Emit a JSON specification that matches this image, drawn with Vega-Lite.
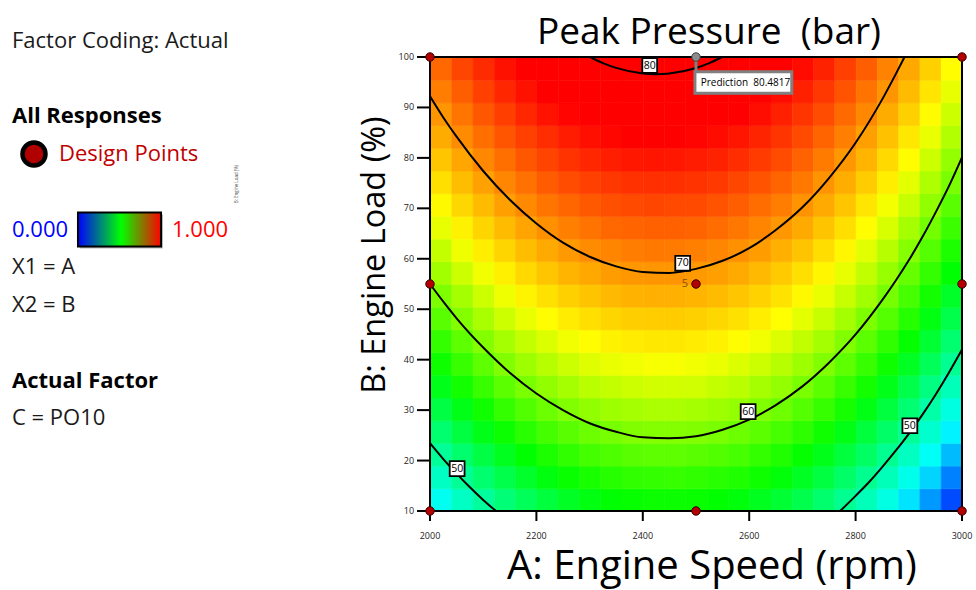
{
  "$schema": "https://vega.github.io/schema/vega-lite/v6.json",
  "width": 532,
  "height": 454,
  "autosize": {"type": "none"},
  "padding": {"left": 430, "top": 57, "right": 14, "bottom": 79},
  "config": {"font": "Open Sans", "view": {"stroke": null}},
  "datasets": {
    "surface": [
      {"A":2020,"B":12.25,"P":47.0},{"A":2060,"B":12.25,"P":48.6},{"A":2100,"B":12.25,"P":50.0},{"A":2140,"B":12.25,"P":51.3},{"A":2180,"B":12.25,"P":52.4},{"A":2220,"B":12.25,"P":53.4},{"A":2260,"B":12.25,"P":54.2},{"A":2300,"B":12.25,"P":54.9},{"A":2340,"B":12.25,"P":55.4},{"A":2380,"B":12.25,"P":55.7},{"A":2420,"B":12.25,"P":55.9},{"A":2460,"B":12.25,"P":55.9},{"A":2500,"B":12.25,"P":55.8},{"A":2540,"B":12.25,"P":55.5},{"A":2580,"B":12.25,"P":55.1},{"A":2620,"B":12.25,"P":54.4},{"A":2660,"B":12.25,"P":53.7},{"A":2700,"B":12.25,"P":52.8},{"A":2740,"B":12.25,"P":51.7},{"A":2780,"B":12.25,"P":50.4},{"A":2820,"B":12.25,"P":49.0},{"A":2860,"B":12.25,"P":47.5},{"A":2900,"B":12.25,"P":45.8},{"A":2940,"B":12.25,"P":43.9},{"A":2980,"B":12.25,"P":41.9},
      {"A":2020,"B":16.75,"P":48.6},{"A":2060,"B":16.75,"P":50.2},{"A":2100,"B":16.75,"P":51.6},{"A":2140,"B":16.75,"P":52.9},{"A":2180,"B":16.75,"P":54.0},{"A":2220,"B":16.75,"P":55.0},{"A":2260,"B":16.75,"P":55.8},{"A":2300,"B":16.75,"P":56.4},{"A":2340,"B":16.75,"P":56.9},{"A":2380,"B":16.75,"P":57.3},{"A":2420,"B":16.75,"P":57.4},{"A":2460,"B":16.75,"P":57.5},{"A":2500,"B":16.75,"P":57.3},{"A":2540,"B":16.75,"P":57.0},{"A":2580,"B":16.75,"P":56.6},{"A":2620,"B":16.75,"P":56.0},{"A":2660,"B":16.75,"P":55.2},{"A":2700,"B":16.75,"P":54.3},{"A":2740,"B":16.75,"P":53.2},{"A":2780,"B":16.75,"P":51.9},{"A":2820,"B":16.75,"P":50.5},{"A":2860,"B":16.75,"P":49.0},{"A":2900,"B":16.75,"P":47.2},{"A":2940,"B":16.75,"P":45.4},{"A":2980,"B":16.75,"P":43.3},
      {"A":2020,"B":21.25,"P":50.1},{"A":2060,"B":21.25,"P":51.7},{"A":2100,"B":21.25,"P":53.1},{"A":2140,"B":21.25,"P":54.4},{"A":2180,"B":21.25,"P":55.5},{"A":2220,"B":21.25,"P":56.5},{"A":2260,"B":21.25,"P":57.3},{"A":2300,"B":21.25,"P":58.0},{"A":2340,"B":21.25,"P":58.4},{"A":2380,"B":21.25,"P":58.8},{"A":2420,"B":21.25,"P":59.0},{"A":2460,"B":21.25,"P":59.0},{"A":2500,"B":21.25,"P":58.8},{"A":2540,"B":21.25,"P":58.5},{"A":2580,"B":21.25,"P":58.1},{"A":2620,"B":21.25,"P":57.4},{"A":2660,"B":21.25,"P":56.7},{"A":2700,"B":21.25,"P":55.7},{"A":2740,"B":21.25,"P":54.6},{"A":2780,"B":21.25,"P":53.4},{"A":2820,"B":21.25,"P":52.0},{"A":2860,"B":21.25,"P":50.4},{"A":2900,"B":21.25,"P":48.7},{"A":2940,"B":21.25,"P":46.8},{"A":2980,"B":21.25,"P":44.8},
      {"A":2020,"B":25.75,"P":51.6},{"A":2060,"B":25.75,"P":53.2},{"A":2100,"B":25.75,"P":54.7},{"A":2140,"B":25.75,"P":55.9},{"A":2180,"B":25.75,"P":57.0},{"A":2220,"B":25.75,"P":58.0},{"A":2260,"B":25.75,"P":58.8},{"A":2300,"B":25.75,"P":59.5},{"A":2340,"B":25.75,"P":59.9},{"A":2380,"B":25.75,"P":60.3},{"A":2420,"B":25.75,"P":60.4},{"A":2460,"B":25.75,"P":60.4},{"A":2500,"B":25.75,"P":60.3},{"A":2540,"B":25.75,"P":60.0},{"A":2580,"B":25.75,"P":59.5},{"A":2620,"B":25.75,"P":58.9},{"A":2660,"B":25.75,"P":58.1},{"A":2700,"B":25.75,"P":57.2},{"A":2740,"B":25.75,"P":56.1},{"A":2780,"B":25.75,"P":54.8},{"A":2820,"B":25.75,"P":53.4},{"A":2860,"B":25.75,"P":51.9},{"A":2900,"B":25.75,"P":50.1},{"A":2940,"B":25.75,"P":48.2},{"A":2980,"B":25.75,"P":46.2},
      {"A":2020,"B":30.25,"P":53.1},{"A":2060,"B":30.25,"P":54.7},{"A":2100,"B":30.25,"P":56.1},{"A":2140,"B":30.25,"P":57.4},{"A":2180,"B":30.25,"P":58.5},{"A":2220,"B":30.25,"P":59.5},{"A":2260,"B":30.25,"P":60.3},{"A":2300,"B":30.25,"P":60.9},{"A":2340,"B":30.25,"P":61.4},{"A":2380,"B":30.25,"P":61.7},{"A":2420,"B":30.25,"P":61.9},{"A":2460,"B":30.25,"P":61.9},{"A":2500,"B":30.25,"P":61.7},{"A":2540,"B":30.25,"P":61.4},{"A":2580,"B":30.25,"P":61.0},{"A":2620,"B":30.25,"P":60.3},{"A":2660,"B":30.25,"P":59.6},{"A":2700,"B":30.25,"P":58.6},{"A":2740,"B":30.25,"P":57.5},{"A":2780,"B":30.25,"P":56.3},{"A":2820,"B":30.25,"P":54.8},{"A":2860,"B":30.25,"P":53.3},{"A":2900,"B":30.25,"P":51.5},{"A":2940,"B":30.25,"P":49.6},{"A":2980,"B":30.25,"P":47.6},
      {"A":2020,"B":34.75,"P":54.6},{"A":2060,"B":34.75,"P":56.2},{"A":2100,"B":34.75,"P":57.6},{"A":2140,"B":34.75,"P":58.9},{"A":2180,"B":34.75,"P":60.0},{"A":2220,"B":34.75,"P":60.9},{"A":2260,"B":34.75,"P":61.7},{"A":2300,"B":34.75,"P":62.4},{"A":2340,"B":34.75,"P":62.8},{"A":2380,"B":34.75,"P":63.1},{"A":2420,"B":34.75,"P":63.3},{"A":2460,"B":34.75,"P":63.3},{"A":2500,"B":34.75,"P":63.2},{"A":2540,"B":34.75,"P":62.8},{"A":2580,"B":34.75,"P":62.4},{"A":2620,"B":34.75,"P":61.7},{"A":2660,"B":34.75,"P":61.0},{"A":2700,"B":34.75,"P":60.0},{"A":2740,"B":34.75,"P":58.9},{"A":2780,"B":34.75,"P":57.6},{"A":2820,"B":34.75,"P":56.2},{"A":2860,"B":34.75,"P":54.6},{"A":2900,"B":34.75,"P":52.9},{"A":2940,"B":34.75,"P":51.0},{"A":2980,"B":34.75,"P":49.0},
      {"A":2020,"B":39.25,"P":56.0},{"A":2060,"B":39.25,"P":57.6},{"A":2100,"B":39.25,"P":59.0},{"A":2140,"B":39.25,"P":60.3},{"A":2180,"B":39.25,"P":61.4},{"A":2220,"B":39.25,"P":62.3},{"A":2260,"B":39.25,"P":63.1},{"A":2300,"B":39.25,"P":63.8},{"A":2340,"B":39.25,"P":64.2},{"A":2380,"B":39.25,"P":64.5},{"A":2420,"B":39.25,"P":64.7},{"A":2460,"B":39.25,"P":64.7},{"A":2500,"B":39.25,"P":64.5},{"A":2540,"B":39.25,"P":64.2},{"A":2580,"B":39.25,"P":63.7},{"A":2620,"B":39.25,"P":63.1},{"A":2660,"B":39.25,"P":62.3},{"A":2700,"B":39.25,"P":61.4},{"A":2740,"B":39.25,"P":60.3},{"A":2780,"B":39.25,"P":59.0},{"A":2820,"B":39.25,"P":57.6},{"A":2860,"B":39.25,"P":56.0},{"A":2900,"B":39.25,"P":54.3},{"A":2940,"B":39.25,"P":52.4},{"A":2980,"B":39.25,"P":50.3},
      {"A":2020,"B":43.75,"P":57.4},{"A":2060,"B":43.75,"P":59.0},{"A":2100,"B":43.75,"P":60.4},{"A":2140,"B":43.75,"P":61.7},{"A":2180,"B":43.75,"P":62.8},{"A":2220,"B":43.75,"P":63.7},{"A":2260,"B":43.75,"P":64.5},{"A":2300,"B":43.75,"P":65.1},{"A":2340,"B":43.75,"P":65.6},{"A":2380,"B":43.75,"P":65.9},{"A":2420,"B":43.75,"P":66.1},{"A":2460,"B":43.75,"P":66.1},{"A":2500,"B":43.75,"P":65.9},{"A":2540,"B":43.75,"P":65.6},{"A":2580,"B":43.75,"P":65.1},{"A":2620,"B":43.75,"P":64.5},{"A":2660,"B":43.75,"P":63.7},{"A":2700,"B":43.75,"P":62.7},{"A":2740,"B":43.75,"P":61.6},{"A":2780,"B":43.75,"P":60.3},{"A":2820,"B":43.75,"P":58.9},{"A":2860,"B":43.75,"P":57.3},{"A":2900,"B":43.75,"P":55.6},{"A":2940,"B":43.75,"P":53.7},{"A":2980,"B":43.75,"P":51.6},
      {"A":2020,"B":48.25,"P":58.8},{"A":2060,"B":48.25,"P":60.4},{"A":2100,"B":48.25,"P":61.8},{"A":2140,"B":48.25,"P":63.1},{"A":2180,"B":48.25,"P":64.2},{"A":2220,"B":48.25,"P":65.1},{"A":2260,"B":48.25,"P":65.9},{"A":2300,"B":48.25,"P":66.5},{"A":2340,"B":48.25,"P":67.0},{"A":2380,"B":48.25,"P":67.3},{"A":2420,"B":48.25,"P":67.4},{"A":2460,"B":48.25,"P":67.4},{"A":2500,"B":48.25,"P":67.2},{"A":2540,"B":48.25,"P":66.9},{"A":2580,"B":48.25,"P":66.4},{"A":2620,"B":48.25,"P":65.8},{"A":2660,"B":48.25,"P":65.0},{"A":2700,"B":48.25,"P":64.0},{"A":2740,"B":48.25,"P":62.9},{"A":2780,"B":48.25,"P":61.6},{"A":2820,"B":48.25,"P":60.2},{"A":2860,"B":48.25,"P":58.6},{"A":2900,"B":48.25,"P":56.9},{"A":2940,"B":48.25,"P":54.9},{"A":2980,"B":48.25,"P":52.9},
      {"A":2020,"B":52.75,"P":60.2},{"A":2060,"B":52.75,"P":61.7},{"A":2100,"B":52.75,"P":63.1},{"A":2140,"B":52.75,"P":64.4},{"A":2180,"B":52.75,"P":65.5},{"A":2220,"B":52.75,"P":66.4},{"A":2260,"B":52.75,"P":67.2},{"A":2300,"B":52.75,"P":67.8},{"A":2340,"B":52.75,"P":68.3},{"A":2380,"B":52.75,"P":68.6},{"A":2420,"B":52.75,"P":68.7},{"A":2460,"B":52.75,"P":68.7},{"A":2500,"B":52.75,"P":68.5},{"A":2540,"B":52.75,"P":68.2},{"A":2580,"B":52.75,"P":67.7},{"A":2620,"B":52.75,"P":67.1},{"A":2660,"B":52.75,"P":66.3},{"A":2700,"B":52.75,"P":65.3},{"A":2740,"B":52.75,"P":64.2},{"A":2780,"B":52.75,"P":62.9},{"A":2820,"B":52.75,"P":61.5},{"A":2860,"B":52.75,"P":59.9},{"A":2900,"B":52.75,"P":58.1},{"A":2940,"B":52.75,"P":56.2},{"A":2980,"B":52.75,"P":54.1},
      {"A":2020,"B":57.25,"P":61.5},{"A":2060,"B":57.25,"P":63.1},{"A":2100,"B":57.25,"P":64.5},{"A":2140,"B":57.25,"P":65.7},{"A":2180,"B":57.25,"P":66.8},{"A":2220,"B":57.25,"P":67.7},{"A":2260,"B":57.25,"P":68.5},{"A":2300,"B":57.25,"P":69.1},{"A":2340,"B":57.25,"P":69.6},{"A":2380,"B":57.25,"P":69.9},{"A":2420,"B":57.25,"P":70.0},{"A":2460,"B":57.25,"P":70.0},{"A":2500,"B":57.25,"P":69.8},{"A":2540,"B":57.25,"P":69.5},{"A":2580,"B":57.25,"P":69.0},{"A":2620,"B":57.25,"P":68.3},{"A":2660,"B":57.25,"P":67.5},{"A":2700,"B":57.25,"P":66.5},{"A":2740,"B":57.25,"P":65.4},{"A":2780,"B":57.25,"P":64.1},{"A":2820,"B":57.25,"P":62.7},{"A":2860,"B":57.25,"P":61.1},{"A":2900,"B":57.25,"P":59.3},{"A":2940,"B":57.25,"P":57.4},{"A":2980,"B":57.25,"P":55.4},
      {"A":2020,"B":61.75,"P":62.8},{"A":2060,"B":61.75,"P":64.4},{"A":2100,"B":61.75,"P":65.8},{"A":2140,"B":61.75,"P":67.0},{"A":2180,"B":61.75,"P":68.1},{"A":2220,"B":61.75,"P":69.0},{"A":2260,"B":61.75,"P":69.8},{"A":2300,"B":61.75,"P":70.4},{"A":2340,"B":61.75,"P":70.8},{"A":2380,"B":61.75,"P":71.1},{"A":2420,"B":61.75,"P":71.3},{"A":2460,"B":61.75,"P":71.2},{"A":2500,"B":61.75,"P":71.0},{"A":2540,"B":61.75,"P":70.7},{"A":2580,"B":61.75,"P":70.2},{"A":2620,"B":61.75,"P":69.6},{"A":2660,"B":61.75,"P":68.7},{"A":2700,"B":61.75,"P":67.8},{"A":2740,"B":61.75,"P":66.6},{"A":2780,"B":61.75,"P":65.4},{"A":2820,"B":61.75,"P":63.9},{"A":2860,"B":61.75,"P":62.3},{"A":2900,"B":61.75,"P":60.5},{"A":2940,"B":61.75,"P":58.6},{"A":2980,"B":61.75,"P":56.5},
      {"A":2020,"B":66.25,"P":64.1},{"A":2060,"B":66.25,"P":65.6},{"A":2100,"B":66.25,"P":67.0},{"A":2140,"B":66.25,"P":68.2},{"A":2180,"B":66.25,"P":69.3},{"A":2220,"B":66.25,"P":70.2},{"A":2260,"B":66.25,"P":71.0},{"A":2300,"B":66.25,"P":71.6},{"A":2340,"B":66.25,"P":72.1},{"A":2380,"B":66.25,"P":72.3},{"A":2420,"B":66.25,"P":72.5},{"A":2460,"B":66.25,"P":72.5},{"A":2500,"B":66.25,"P":72.3},{"A":2540,"B":66.25,"P":71.9},{"A":2580,"B":66.25,"P":71.4},{"A":2620,"B":66.25,"P":70.8},{"A":2660,"B":66.25,"P":69.9},{"A":2700,"B":66.25,"P":69.0},{"A":2740,"B":66.25,"P":67.8},{"A":2780,"B":66.25,"P":66.5},{"A":2820,"B":66.25,"P":65.1},{"A":2860,"B":66.25,"P":63.5},{"A":2900,"B":66.25,"P":61.7},{"A":2940,"B":66.25,"P":59.8},{"A":2980,"B":66.25,"P":57.7},
      {"A":2020,"B":70.75,"P":65.3},{"A":2060,"B":70.75,"P":66.9},{"A":2100,"B":70.75,"P":68.2},{"A":2140,"B":70.75,"P":69.5},{"A":2180,"B":70.75,"P":70.5},{"A":2220,"B":70.75,"P":71.5},{"A":2260,"B":70.75,"P":72.2},{"A":2300,"B":70.75,"P":72.8},{"A":2340,"B":70.75,"P":73.3},{"A":2380,"B":70.75,"P":73.5},{"A":2420,"B":70.75,"P":73.7},{"A":2460,"B":70.75,"P":73.6},{"A":2500,"B":70.75,"P":73.5},{"A":2540,"B":70.75,"P":73.1},{"A":2580,"B":70.75,"P":72.6},{"A":2620,"B":70.75,"P":71.9},{"A":2660,"B":70.75,"P":71.1},{"A":2700,"B":70.75,"P":70.1},{"A":2740,"B":70.75,"P":69.0},{"A":2780,"B":70.75,"P":67.7},{"A":2820,"B":70.75,"P":66.2},{"A":2860,"B":70.75,"P":64.6},{"A":2900,"B":70.75,"P":62.9},{"A":2940,"B":70.75,"P":60.9},{"A":2980,"B":70.75,"P":58.8},
      {"A":2020,"B":75.25,"P":66.5},{"A":2060,"B":75.25,"P":68.1},{"A":2100,"B":75.25,"P":69.4},{"A":2140,"B":75.25,"P":70.7},{"A":2180,"B":75.25,"P":71.7},{"A":2220,"B":75.25,"P":72.7},{"A":2260,"B":75.25,"P":73.4},{"A":2300,"B":75.25,"P":74.0},{"A":2340,"B":75.25,"P":74.4},{"A":2380,"B":75.25,"P":74.7},{"A":2420,"B":75.25,"P":74.8},{"A":2460,"B":75.25,"P":74.8},{"A":2500,"B":75.25,"P":74.6},{"A":2540,"B":75.25,"P":74.3},{"A":2580,"B":75.25,"P":73.7},{"A":2620,"B":75.25,"P":73.1},{"A":2660,"B":75.25,"P":72.3},{"A":2700,"B":75.25,"P":71.3},{"A":2740,"B":75.25,"P":70.1},{"A":2780,"B":75.25,"P":68.8},{"A":2820,"B":75.25,"P":67.4},{"A":2860,"B":75.25,"P":65.8},{"A":2900,"B":75.25,"P":64.0},{"A":2940,"B":75.25,"P":62.0},{"A":2980,"B":75.25,"P":60.0},
      {"A":2020,"B":79.75,"P":67.7},{"A":2060,"B":79.75,"P":69.2},{"A":2100,"B":79.75,"P":70.6},{"A":2140,"B":79.75,"P":71.8},{"A":2180,"B":79.75,"P":72.9},{"A":2220,"B":79.75,"P":73.8},{"A":2260,"B":79.75,"P":74.6},{"A":2300,"B":79.75,"P":75.2},{"A":2340,"B":79.75,"P":75.6},{"A":2380,"B":79.75,"P":75.9},{"A":2420,"B":79.75,"P":76.0},{"A":2460,"B":79.75,"P":75.9},{"A":2500,"B":79.75,"P":75.7},{"A":2540,"B":79.75,"P":75.4},{"A":2580,"B":79.75,"P":74.9},{"A":2620,"B":79.75,"P":74.2},{"A":2660,"B":79.75,"P":73.4},{"A":2700,"B":79.75,"P":72.4},{"A":2740,"B":79.75,"P":71.2},{"A":2780,"B":79.75,"P":69.9},{"A":2820,"B":79.75,"P":68.5},{"A":2860,"B":79.75,"P":66.8},{"A":2900,"B":79.75,"P":65.1},{"A":2940,"B":79.75,"P":63.1},{"A":2980,"B":79.75,"P":61.0},
      {"A":2020,"B":84.25,"P":68.9},{"A":2060,"B":84.25,"P":70.4},{"A":2100,"B":84.25,"P":71.8},{"A":2140,"B":84.25,"P":73.0},{"A":2180,"B":84.25,"P":74.0},{"A":2220,"B":84.25,"P":74.9},{"A":2260,"B":84.25,"P":75.7},{"A":2300,"B":84.25,"P":76.3},{"A":2340,"B":84.25,"P":76.7},{"A":2380,"B":84.25,"P":77.0},{"A":2420,"B":84.25,"P":77.1},{"A":2460,"B":84.25,"P":77.0},{"A":2500,"B":84.25,"P":76.8},{"A":2540,"B":84.25,"P":76.5},{"A":2580,"B":84.25,"P":76.0},{"A":2620,"B":84.25,"P":75.3},{"A":2660,"B":84.25,"P":74.5},{"A":2700,"B":84.25,"P":73.5},{"A":2740,"B":84.25,"P":72.3},{"A":2780,"B":84.25,"P":71.0},{"A":2820,"B":84.25,"P":69.5},{"A":2860,"B":84.25,"P":67.9},{"A":2900,"B":84.25,"P":66.1},{"A":2940,"B":84.25,"P":64.2},{"A":2980,"B":84.25,"P":62.1},
      {"A":2020,"B":88.75,"P":70.0},{"A":2060,"B":88.75,"P":71.5},{"A":2100,"B":88.75,"P":72.9},{"A":2140,"B":88.75,"P":74.1},{"A":2180,"B":88.75,"P":75.2},{"A":2220,"B":88.75,"P":76.1},{"A":2260,"B":88.75,"P":76.8},{"A":2300,"B":88.75,"P":77.4},{"A":2340,"B":88.75,"P":77.8},{"A":2380,"B":88.75,"P":78.1},{"A":2420,"B":88.75,"P":78.2},{"A":2460,"B":88.75,"P":78.1},{"A":2500,"B":88.75,"P":77.9},{"A":2540,"B":88.75,"P":77.6},{"A":2580,"B":88.75,"P":77.0},{"A":2620,"B":88.75,"P":76.4},{"A":2660,"B":88.75,"P":75.5},{"A":2700,"B":88.75,"P":74.5},{"A":2740,"B":88.75,"P":73.4},{"A":2780,"B":88.75,"P":72.0},{"A":2820,"B":88.75,"P":70.6},{"A":2860,"B":88.75,"P":68.9},{"A":2900,"B":88.75,"P":67.2},{"A":2940,"B":88.75,"P":65.2},{"A":2980,"B":88.75,"P":63.1},
      {"A":2020,"B":93.25,"P":71.1},{"A":2060,"B":93.25,"P":72.6},{"A":2100,"B":93.25,"P":74.0},{"A":2140,"B":93.25,"P":75.2},{"A":2180,"B":93.25,"P":76.2},{"A":2220,"B":93.25,"P":77.1},{"A":2260,"B":93.25,"P":77.9},{"A":2300,"B":93.25,"P":78.4},{"A":2340,"B":93.25,"P":78.9},{"A":2380,"B":93.25,"P":79.1},{"A":2420,"B":93.25,"P":79.2},{"A":2460,"B":93.25,"P":79.2},{"A":2500,"B":93.25,"P":79.0},{"A":2540,"B":93.25,"P":78.6},{"A":2580,"B":93.25,"P":78.1},{"A":2620,"B":93.25,"P":77.4},{"A":2660,"B":93.25,"P":76.5},{"A":2700,"B":93.25,"P":75.5},{"A":2740,"B":93.25,"P":74.4},{"A":2780,"B":93.25,"P":73.1},{"A":2820,"B":93.25,"P":71.6},{"A":2860,"B":93.25,"P":70.0},{"A":2900,"B":93.25,"P":68.2},{"A":2940,"B":93.25,"P":66.2},{"A":2980,"B":93.25,"P":64.1},
      {"A":2020,"B":97.75,"P":72.1},{"A":2060,"B":97.75,"P":73.7},{"A":2100,"B":97.75,"P":75.0},{"A":2140,"B":97.75,"P":76.2},{"A":2180,"B":97.75,"P":77.3},{"A":2220,"B":97.75,"P":78.2},{"A":2260,"B":97.75,"P":78.9},{"A":2300,"B":97.75,"P":79.5},{"A":2340,"B":97.75,"P":79.9},{"A":2380,"B":97.75,"P":80.2},{"A":2420,"B":97.75,"P":80.3},{"A":2460,"B":97.75,"P":80.2},{"A":2500,"B":97.75,"P":80.0},{"A":2540,"B":97.75,"P":79.6},{"A":2580,"B":97.75,"P":79.1},{"A":2620,"B":97.75,"P":78.4},{"A":2660,"B":97.75,"P":77.5},{"A":2700,"B":97.75,"P":76.5},{"A":2740,"B":97.75,"P":75.4},{"A":2780,"B":97.75,"P":74.0},{"A":2820,"B":97.75,"P":72.6},{"A":2860,"B":97.75,"P":70.9},{"A":2900,"B":97.75,"P":69.1},{"A":2940,"B":97.75,"P":67.2},{"A":2980,"B":97.75,"P":65.1}
    ],
    "contours": [
      {"part":"80","A":2301,"B":100},{"part":"80","A":2325,"B":98.8},{"part":"80","A":2350,"B":97.85},{"part":"80","A":2400,"B":96.75},{"part":"80","A":2425,"B":96.6},{"part":"80","A":2450,"B":96.74},{"part":"80","A":2500,"B":97.83},{"part":"80","A":2525,"B":98.8},{"part":"80","A":2549,"B":100},
      {"part":"70","A":2000,"B":92.2},{"part":"70","A":2025,"B":88.0},{"part":"70","A":2050,"B":84.2},{"part":"70","A":2100,"B":77.4},{"part":"70","A":2150,"B":71.7},{"part":"70","A":2200,"B":67.0},{"part":"70","A":2250,"B":63.2},{"part":"70","A":2300,"B":60.4},{"part":"70","A":2350,"B":58.5},{"part":"70","A":2400,"B":57.4},{"part":"70","A":2450,"B":57.2},{"part":"70","A":2500,"B":58.0},{"part":"70","A":2550,"B":59.6},{"part":"70","A":2600,"B":62.1},{"part":"70","A":2650,"B":65.7},{"part":"70","A":2700,"B":70.2},{"part":"70","A":2750,"B":76.0},{"part":"70","A":2800,"B":83.0},{"part":"70","A":2850,"B":91.6},{"part":"70","A":2875,"B":96.5},{"part":"70","A":2892,"B":100},
      {"part":"60","A":2000,"B":55.0},{"part":"60","A":2025,"B":51.5},{"part":"60","A":2050,"B":48.2},{"part":"60","A":2100,"B":42.4},{"part":"60","A":2150,"B":37.4},{"part":"60","A":2200,"B":33.3},{"part":"60","A":2250,"B":30.0},{"part":"60","A":2300,"B":27.4},{"part":"60","A":2350,"B":25.7},{"part":"60","A":2400,"B":24.6},{"part":"60","A":2450,"B":24.4},{"part":"60","A":2500,"B":24.8},{"part":"60","A":2550,"B":26.1},{"part":"60","A":2600,"B":28.1},{"part":"60","A":2650,"B":31.0},{"part":"60","A":2700,"B":34.7},{"part":"60","A":2750,"B":39.4},{"part":"60","A":2800,"B":45.0},{"part":"60","A":2850,"B":51.8},{"part":"60","A":2875,"B":55.6},{"part":"60","A":2900,"B":59.7},{"part":"60","A":2925,"B":64.2},{"part":"60","A":2950,"B":69.1},{"part":"60","A":2975,"B":74.3},{"part":"60","A":3000,"B":80.1},
      {"part":"50 low speed","A":2000,"B":23.45},{"part":"50 low speed","A":2025,"B":20.3},{"part":"50 low speed","A":2050,"B":17.4},{"part":"50 low speed","A":2075,"B":14.7},{"part":"50 low speed","A":2100,"B":12.2},{"part":"50 low speed","A":2124,"B":10},
      {"part":"50 high speed","A":2771,"B":10},{"part":"50 high speed","A":2800,"B":13.0},{"part":"50 high speed","A":2825,"B":15.7},{"part":"50 high speed","A":2850,"B":18.7},{"part":"50 high speed","A":2875,"B":21.9},{"part":"50 high speed","A":2900,"B":25.3},{"part":"50 high speed","A":2925,"B":29.0},{"part":"50 high speed","A":2950,"B":33.0},{"part":"50 high speed","A":2975,"B":37.35},{"part":"50 high speed","A":3000,"B":42.0}
    ],
    "contourLabels": [
      {"level":80,"A":2413,"B":98.3},{"level":70,"A":2475,"B":59.1},{"level":60,"A":2598,"B":29.7},{"level":50,"A":2902,"B":26.9},{"level":50,"A":2051,"B":18.4}
    ],
    "design": [
      {"A":2000,"B":10,"runs":1},{"A":2000,"B":55,"runs":1},{"A":2000,"B":100,"runs":1},{"A":2500,"B":10,"runs":1},{"A":2500,"B":55,"runs":5},{"A":3000,"B":10,"runs":1},{"A":3000,"B":55,"runs":1},{"A":3000,"B":100,"runs":1}
    ],
    "prediction": [{"A":2500,"B":100,"P":80.4817}],
    "speedTicks": [{"A":2000},{"A":2200},{"A":2400},{"A":2600},{"A":2800},{"A":3000}],
    "loadTicks": [{"B":10},{"B":20},{"B":30},{"B":40},{"B":50},{"B":60},{"B":70},{"B":80},{"B":90},{"B":100}]
  },
  "layer": [
    {
      "data": {"name": "surface"},
      "mark": {"type": "rect", "strokeWidth": 0.6},
      "encoding": {
        "x": {"field": "A", "type": "quantitative", "bin": {"step": 40, "extent": [2000, 3000], "nice": false},
              "scale": {"domain": [2000, 3000], "nice": false, "zero": false}, "axis": null},
        "y": {"field": "B", "type": "quantitative", "bin": {"step": 4.5, "extent": [10, 100], "nice": false},
              "scale": {"domain": [10, 100], "nice": false, "zero": false}, "axis": null},
        "fill": {"field": "P", "type": "quantitative", "legend": null,
                 "scale": {"domain": [40, 46.5, 55.5, 65, 77], "range": ["#0000ff", "#00ffff", "#00ff00", "#ffff00", "#ff0000"], "clamp": true, "interpolate": "rgb"}},
        "stroke": {"field": "P", "type": "quantitative", "legend": null,
                   "scale": {"domain": [40, 46.5, 55.5, 65, 77], "range": ["#0000ff", "#00ffff", "#00ff00", "#ffff00", "#ff0000"], "clamp": true, "interpolate": "rgb"}}
      }
    },
    {
      "data": {"name": "contours"},
      "mark": {"type": "line", "color": "#000", "strokeWidth": 2, "interpolate": "monotone"},
      "encoding": {
        "x": {"field": "A", "type": "quantitative", "axis": null},
        "y": {"field": "B", "type": "quantitative", "axis": null},
        "detail": {"field": "part", "type": "nominal"},
        "order": {"field": "A", "type": "quantitative"}
      }
    },
    {
      "data": {"name": "contourLabels"},
      "mark": {"type": "point", "shape": "square", "filled": true, "fill": "#fff", "stroke": "#000", "strokeWidth": 1.8, "size": 220, "opacity": 1},
      "encoding": {"x": {"field": "A", "type": "quantitative", "axis": null}, "y": {"field": "B", "type": "quantitative", "axis": null}}
    },
    {
      "data": {"name": "contourLabels"},
      "mark": {"type": "text", "fontSize": 10.5, "color": "#000", "align": "center", "baseline": "middle"},
      "encoding": {"x": {"field": "A", "type": "quantitative", "axis": null}, "y": {"field": "B", "type": "quantitative", "axis": null},
                   "text": {"field": "level", "type": "quantitative"}}
    },
    {
      "data": {"values": [{}]},
      "mark": {"type": "rect", "filled": false, "color": "#000", "strokeWidth": 2},
      "encoding": {"x": {"datum": 2000, "type": "quantitative", "axis": null}, "x2": {"datum": 3000},
                   "y": {"datum": 10, "type": "quantitative", "axis": null}, "y2": {"datum": 100}}
    },
    {
      "data": {"name": "speedTicks"},
      "mark": {"type": "rule", "color": "#000", "strokeWidth": 2},
      "encoding": {"x": {"field": "A", "type": "quantitative", "axis": null}, "y": {"datum": 10, "type": "quantitative", "axis": null}, "y2": {"datum": 8.02}}
    },
    {
      "data": {"name": "speedTicks"},
      "mark": {"type": "text", "fontSize": 9, "color": "#222", "align": "center", "baseline": "middle"},
      "encoding": {"x": {"field": "A", "type": "quantitative", "axis": null}, "y": {"datum": 4.95, "type": "quantitative", "axis": null},
                   "text": {"field": "A", "type": "quantitative", "format": "d"}}
    },
    {
      "data": {"name": "loadTicks"},
      "mark": {"type": "rule", "color": "#000", "strokeWidth": 2},
      "encoding": {"y": {"field": "B", "type": "quantitative", "axis": null}, "x": {"datum": 2000, "type": "quantitative", "axis": null}, "x2": {"datum": 1975.6}}
    },
    {
      "data": {"name": "loadTicks"},
      "mark": {"type": "text", "fontSize": 9, "color": "#222", "align": "right", "baseline": "middle"},
      "encoding": {"y": {"field": "B", "type": "quantitative", "axis": null}, "x": {"datum": 1970, "type": "quantitative", "axis": null},
                   "text": {"field": "B", "type": "quantitative", "format": "d"}}
    },
    {
      "data": {"values": [{}]},
      "mark": {"type": "text", "text": "A: Engine Speed (rpm)", "fontSize": 40, "color": "#000", "align": "center", "baseline": "alphabetic"},
      "encoding": {"x": {"datum": 2530, "type": "quantitative", "axis": null}, "y": {"datum": -3.48, "type": "quantitative", "axis": null}}
    },
    {
      "data": {"values": [{}]},
      "mark": {"type": "text", "text": "B: Engine Load (%)", "angle": 270, "fontSize": 32.5, "color": "#000", "align": "center", "baseline": "alphabetic"},
      "encoding": {"x": {"datum": 1915.4, "type": "quantitative", "axis": null}, "y": {"datum": 60.75, "type": "quantitative", "axis": null}}
    },
    {
      "data": {"values": [{}]},
      "mark": {"type": "text", "text": "Peak Pressure\u00a0\u00a0(bar)", "fontSize": 37, "color": "#000", "align": "center", "baseline": "alphabetic"},
      "encoding": {"x": {"datum": 2524.4, "type": "quantitative", "axis": null}, "y": {"datum": 102.58, "type": "quantitative", "axis": null}}
    },
    {
      "data": {"name": "design"},
      "mark": {"type": "point", "shape": "circle", "filled": true, "size": 72, "fill": "#b30000", "stroke": "#3a0000", "strokeWidth": 1, "opacity": 1},
      "encoding": {"x": {"field": "A", "type": "quantitative", "axis": null}, "y": {"field": "B", "type": "quantitative", "axis": null}}
    },
    {
      "data": {"name": "design"},
      "transform": [{"filter": "datum.runs > 1"}],
      "mark": {"type": "text", "dx": -11, "fontSize": 11, "color": "#8a5200", "align": "center", "baseline": "middle"},
      "encoding": {"x": {"field": "A", "type": "quantitative", "axis": null}, "y": {"field": "B", "type": "quantitative", "axis": null},
                   "text": {"field": "runs", "type": "quantitative"}}
    },
    {
      "data": {"name": "prediction"},
      "mark": {"type": "rule", "color": "#808080", "strokeWidth": 3},
      "encoding": {"x": {"field": "A", "type": "quantitative", "axis": null}, "y": {"field": "B", "type": "quantitative", "axis": null}, "y2": {"datum": 96}}
    },
    {
      "data": {"values": [{}]},
      "mark": {"type": "rect", "fill": "#fff", "stroke": "#808080", "strokeWidth": 3},
      "encoding": {"x": {"datum": 2498, "type": "quantitative", "axis": null}, "x2": {"datum": 2680},
                   "y": {"datum": 97.09, "type": "quantitative", "axis": null}, "y2": {"datum": 92.8}}
    },
    {
      "data": {"name": "prediction"},
      "mark": {"type": "point", "shape": "circle", "filled": true, "size": 72, "fill": "#8c8c8c", "stroke": "#404040", "strokeWidth": 1, "opacity": 1},
      "encoding": {"x": {"field": "A", "type": "quantitative", "axis": null}, "y": {"field": "B", "type": "quantitative", "axis": null}}
    },
    {
      "data": {"values": [{}]},
      "mark": {"type": "text", "text": "Prediction", "align": "left", "baseline": "middle", "fontSize": 10, "color": "#000"},
      "encoding": {"x": {"datum": 2508.8, "type": "quantitative", "axis": null}, "y": {"datum": 94.94, "type": "quantitative", "axis": null}}
    },
    {
      "data": {"name": "prediction"},
      "mark": {"type": "text", "align": "left", "baseline": "middle", "fontSize": 10, "color": "#000"},
      "encoding": {"x": {"datum": 2607.7, "type": "quantitative", "axis": null}, "y": {"datum": 94.94, "type": "quantitative", "axis": null},
                   "text": {"field": "P", "type": "quantitative", "format": ".4f"}}
    },
    {
      "data": {"values": [{}]},
      "layer": [
        {"mark": {"type": "text", "text": "Factor Coding: Actual", "align": "left", "baseline": "middle", "fontSize": 22, "color": "#1a1a1a"},
         "encoding": {"x": {"datum": 1214.3, "type": "quantitative", "axis": null}, "y": {"datum": 103.27, "type": "quantitative", "axis": null}}},
        {"mark": {"type": "text", "text": "All Responses", "align": "left", "baseline": "middle", "fontSize": 22, "fontWeight": "bold", "color": "#000"},
         "encoding": {"x": {"datum": 1214.3, "type": "quantitative", "axis": null}, "y": {"datum": 88.28, "type": "quantitative", "axis": null}}},
        {"mark": {"type": "point", "shape": "circle", "filled": true, "size": 530, "fill": "#b00000", "stroke": "#000", "strokeWidth": 4.5, "opacity": 1},
         "encoding": {"x": {"datum": 1255.6, "type": "quantitative", "axis": null}, "y": {"datum": 80.79, "type": "quantitative", "axis": null}}},
        {"mark": {"type": "text", "text": "Design Points", "align": "left", "baseline": "middle", "fontSize": 22, "color": "#c00000"},
         "encoding": {"x": {"datum": 1302.6, "type": "quantitative", "axis": null}, "y": {"datum": 80.79, "type": "quantitative", "axis": null}}},
        {"mark": {"type": "text", "text": "B: Engine Load (%)", "angle": 270, "align": "center", "baseline": "middle", "fontSize": 4.5, "color": "#444"},
         "encoding": {"x": {"datum": 1636.3, "type": "quantitative", "axis": null}, "y": {"datum": 74.82, "type": "quantitative", "axis": null}}},
        {"mark": {"type": "text", "text": "0.000", "align": "left", "baseline": "middle", "fontSize": 22, "color": "#0000ff"},
         "encoding": {"x": {"datum": 1214.3, "type": "quantitative", "axis": null}, "y": {"datum": 65.8, "type": "quantitative", "axis": null}}},
        {"mark": {"type": "rect", "fill": "#bdbdbd"},
         "encoding": {"x": {"datum": 1342.1, "type": "quantitative", "axis": null}, "x2": {"datum": 1498.1},
                      "y": {"datum": 68.78, "type": "quantitative", "axis": null}, "y2": {"datum": 62.04}}},
        {"mark": {"type": "rect", "stroke": "#000", "strokeWidth": 2,
                  "fill": {"gradient": "linear", "x1": 0, "y1": 0, "x2": 1, "y2": 0,
                           "stops": [{"offset": 0, "color": "#0000ff"}, {"offset": 0.52, "color": "#00ff00"}, {"offset": 1, "color": "#ff0000"}]}},
         "encoding": {"x": {"datum": 1338.3, "type": "quantitative", "axis": null}, "x2": {"datum": 1494.4},
                      "y": {"datum": 69.17, "type": "quantitative", "axis": null}, "y2": {"datum": 62.43}}},
        {"mark": {"type": "text", "text": "1.000", "align": "left", "baseline": "middle", "fontSize": 22, "color": "#ff0000"},
         "encoding": {"x": {"datum": 1515.0, "type": "quantitative", "axis": null}, "y": {"datum": 65.8, "type": "quantitative", "axis": null}}},
        {"mark": {"type": "text", "text": "X1 = A", "align": "left", "baseline": "middle", "fontSize": 22, "color": "#1a1a1a"},
         "encoding": {"x": {"datum": 1214.3, "type": "quantitative", "axis": null}, "y": {"datum": 58.31, "type": "quantitative", "axis": null}}},
        {"mark": {"type": "text", "text": "X2 = B", "align": "left", "baseline": "middle", "fontSize": 22, "color": "#1a1a1a"},
         "encoding": {"x": {"datum": 1214.3, "type": "quantitative", "axis": null}, "y": {"datum": 50.82, "type": "quantitative", "axis": null}}},
        {"mark": {"type": "text", "text": "Actual Factor", "align": "left", "baseline": "middle", "fontSize": 22, "fontWeight": "bold", "color": "#000"},
         "encoding": {"x": {"datum": 1214.3, "type": "quantitative", "axis": null}, "y": {"datum": 35.83, "type": "quantitative", "axis": null}}},
        {"mark": {"type": "text", "text": "C = PO10", "align": "left", "baseline": "middle", "fontSize": 22, "color": "#1a1a1a"},
         "encoding": {"x": {"datum": 1214.3, "type": "quantitative", "axis": null}, "y": {"datum": 28.34, "type": "quantitative", "axis": null}}}
      ]
    }
  ]
}
